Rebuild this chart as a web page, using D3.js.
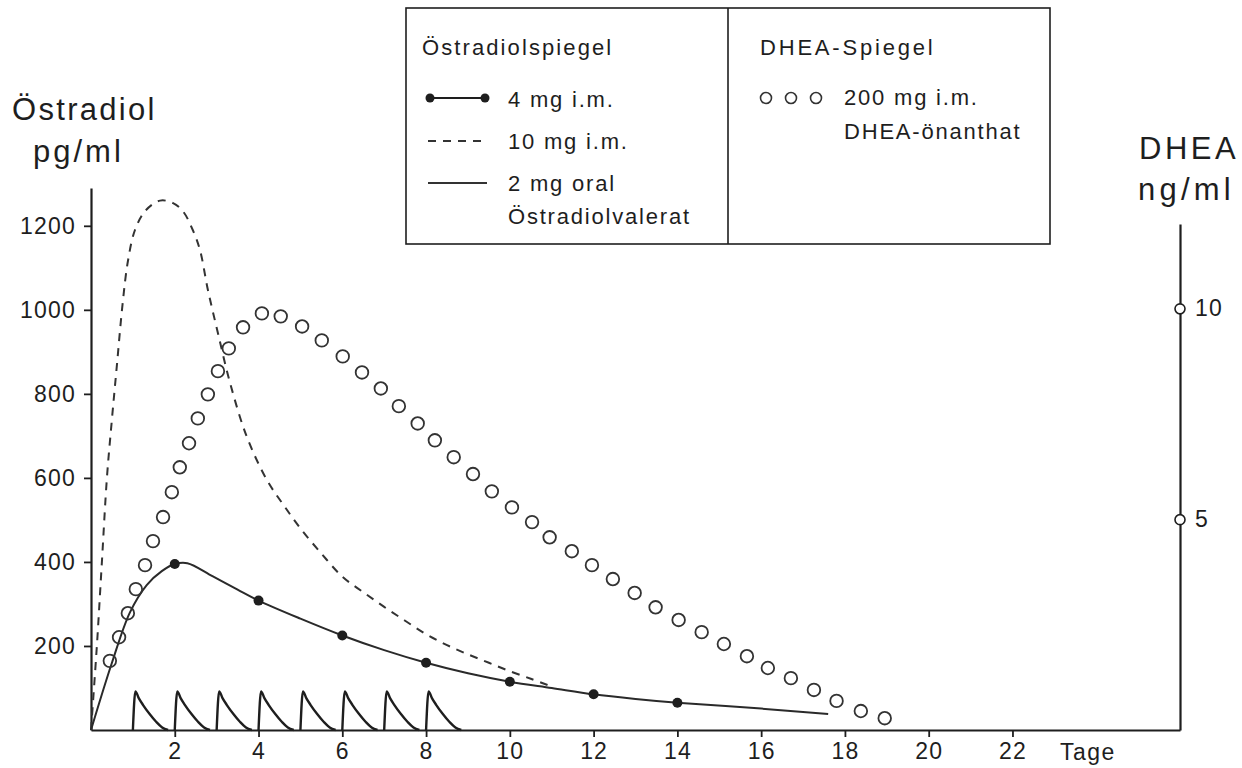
<!DOCTYPE html>
<html>
<head>
<meta charset="utf-8">
<script src="https://cdn.jsdelivr.net/npm/d3@7"></script>
<style>
body { margin: 0; background: #fff; }
text { font-family: 'Liberation Sans', Arial, sans-serif; fill: #1e1e1e; }
</style>
</head>
<body>
<div id="chart"></div>
<script>
const width = 1242;
const height = 768;
const ink = '#1e1e1e';

// axis ticks
const dayTicks = [2, 4, 6, 8, 10, 12, 14, 16, 18, 20, 22];
const estTicks = [200, 400, 600, 800, 1000, 1200];
const dheaTicks = [5, 10];

// Östradiol, 4 mg i.m. : drawn curve and measured points (pg/ml)
const e4Days = [0, 0.5, 0.93, 1.33, 1.69, 2, 2.3, 2.9, 3.5, 4, 5, 6, 7, 8, 9, 10, 11, 12, 13, 14, 16, 17.6];
const e4Vals = [0, 160, 280, 345, 378, 395, 397, 366, 334, 308, 265, 225, 190, 160, 135, 115, 100, 85, 74, 65, 51, 38];
const e4DotDays = [2, 4, 6, 8, 10, 12, 14];
const e4DotVals = [395, 308, 225, 160, 115, 85, 65];

// Östradiol, 10 mg i.m. (pg/ml)
const e10Days = [0, 0.14, 0.26, 0.38, 0.5, 0.62, 0.75, 0.88, 1.05, 1.3, 1.65, 1.96, 2.2, 2.43, 2.6, 2.79, 3.03,
                 3.32, 3.72, 4.2, 4.6, 5.0, 5.5, 6, 6.5, 7, 7.5, 8, 8.5, 9, 9.5, 10, 10.5, 10.9];
const e10Vals = [0, 200, 400, 600, 740, 870, 1010, 1115, 1190, 1236, 1260, 1254, 1234, 1190, 1143, 1048, 945,
                 826, 698, 595, 535, 480, 420, 365, 328, 293, 260, 228, 202, 180, 160, 140, 122, 107];

// Östradiolvalerat, 2 mg oral : one intake per day, profile after each intake (pg/ml)
const oralDoseDays = [1, 2, 3, 4, 5, 6, 7, 8];
const oralProfileDays = [0, 0.06, 0.14, 0.24, 0.4, 0.56, 0.7, 0.84];
const oralProfileVals = [0, 92, 76, 60, 38, 19, 6, 0];

// DHEA, 200 mg i.m. DHEA-önanthat (ng/ml)
const dheaDays = [0.45, 0.67, 0.88, 1.07, 1.29, 1.48, 1.72, 1.93, 2.12, 2.34, 2.55, 2.79, 3.03, 3.29, 3.63, 4.08,
                  4.53, 5.04, 5.51, 6.01, 6.47, 6.92, 7.35, 7.80, 8.21, 8.66, 9.12, 9.57, 10.05, 10.53, 10.95,
                  11.48, 11.96, 12.46, 12.98, 13.48, 14.03, 14.58, 15.11, 15.66, 16.16, 16.71, 17.26, 17.80, 18.38, 18.95];
const dheaVals = [1.64, 2.20, 2.77, 3.34, 3.91, 4.48, 5.05, 5.64, 6.23, 6.80, 7.39, 7.96, 8.51, 9.05, 9.55, 9.88,
                  9.81, 9.57, 9.24, 8.86, 8.48, 8.10, 7.68, 7.27, 6.87, 6.47, 6.07, 5.66, 5.28, 4.93, 4.57,
                  4.24, 3.91, 3.58, 3.25, 2.91, 2.61, 2.32, 2.04, 1.75, 1.47, 1.23, 0.95, 0.69, 0.45, 0.28];

const x = d3.scaleLinear().domain([0, 26]).range([91, 1180]);
const yE = d3.scaleLinear().domain([0, 1290]).range([730, 188]);
const yD = d3.scaleLinear().domain([0, 12]).range([730, 224]);

const svg = d3.select('#chart').append('svg')
    .attr('width', width)
    .attr('height', height);
svg.append('rect')
    .attr('width', width)
    .attr('height', height)
    .attr('fill', '#fff');

function styleAxis(g) {
    g.attr('font-family', null).attr('font-size', 23);
    g.select('.domain').attr('stroke', ink).attr('stroke-width', 2.2);
    g.selectAll('.tick line').attr('stroke', ink).attr('stroke-width', 1.8);
    g.selectAll('.tick text').attr('letter-spacing', 1.2);
}

// axes
svg.append('g')
    .attr('transform', 'translate(0,' + yE(0) + ')')
    .call(d3.axisBottom(x).tickValues(dayTicks).tickFormat(d3.format('d'))
        .tickSize(7).tickSizeOuter(0).tickPadding(6))
    .call(styleAxis);
svg.append('g')
    .attr('transform', 'translate(' + x(0) + ',0)')
    .call(d3.axisLeft(yE).tickValues(estTicks).tickFormat(d3.format('d'))
        .tickSize(7).tickSizeOuter(0).tickPadding(8))
    .call(styleAxis);
let right = svg.append('g')
    .attr('transform', 'translate(' + x(26) + ',0)')
    .call(d3.axisRight(yD).tickValues(dheaTicks).tickFormat(d3.format('d'))
        .tickSize(0).tickSizeOuter(0).tickPadding(15))
    .call(styleAxis);
right.selectAll('.tick').append('circle')
    .attr('r', 5)
    .attr('fill', '#fff')
    .attr('stroke', ink)
    .attr('stroke-width', 1.6);

// curves
const lineE = d3.line()
    .x(d => x(d[0]))
    .y(d => yE(d[1]))
    .curve(d3.curveCatmullRom.alpha(0.5));
const lineOral = d3.line()
    .x(d => x(d[0]))
    .y(d => yE(d[1]))
    .curve(d3.curveMonotoneX);

svg.append('path')
    .datum(d3.zip(e10Days, e10Vals))
    .attr('d', lineE)
    .attr('fill', 'none')
    .attr('stroke', '#333')
    .attr('stroke-width', 2)
    .attr('stroke-dasharray', '8,7');

svg.append('path')
    .datum(d3.zip(e4Days, e4Vals))
    .attr('d', lineE)
    .attr('fill', 'none')
    .attr('stroke', '#2a2a2a')
    .attr('stroke-width', 2);

svg.append('g').selectAll('circle')
    .data(d3.zip(e4DotDays, e4DotVals))
    .enter().append('circle')
    .attr('cx', d => x(d[0]))
    .attr('cy', d => yE(d[1]))
    .attr('r', 5)
    .attr('fill', ink);

svg.append('g').selectAll('path')
    .data(oralDoseDays)
    .enter().append('path')
    .attr('d', day => lineOral(d3.zip(oralProfileDays.map(t => t + day), oralProfileVals)))
    .attr('fill', 'none')
    .attr('stroke', ink)
    .attr('stroke-width', 2.4);

svg.append('g').selectAll('circle')
    .data(d3.zip(dheaDays, dheaVals))
    .enter().append('circle')
    .attr('cx', d => x(d[0]))
    .attr('cy', d => yD(d[1]))
    .attr('r', 6.3)
    .attr('fill', 'none')
    .attr('stroke', '#333')
    .attr('stroke-width', 1.8);

// axis titles
function label(txt, px, py, size, spacing) {
    svg.append('text')
        .attr('x', px)
        .attr('y', py)
        .attr('font-size', size)
        .attr('letter-spacing', spacing)
        .text(txt);
}
label('Östradiol', 12, 120, 31, 2.3);
label('pg/ml', 33, 162, 31, 3);
label('DHEA', 1139, 159, 31, 3.5);
label('ng/ml', 1138, 200, 31, 4.2);
label('Tage', 1060, 760, 23, 1.5);

// legend
let legend = svg.append('g');
legend.append('rect')
    .attr('x', 406).attr('y', 8)
    .attr('width', 644).attr('height', 236)
    .attr('fill', 'none')
    .attr('stroke', ink)
    .attr('stroke-width', 1.6);
legend.append('line')
    .attr('x1', 728).attr('x2', 728)
    .attr('y1', 8).attr('y2', 244)
    .attr('stroke', ink)
    .attr('stroke-width', 1.6);

label('Östradiolspiegel', 422, 55, 22, 2.1);
label('DHEA-Spiegel', 760, 55, 22, 2.8);

legend.append('line')
    .attr('x1', 430).attr('x2', 485).attr('y1', 98).attr('y2', 98)
    .attr('stroke', ink).attr('stroke-width', 2);
legend.selectAll('circle.end')
    .data([430, 485])
    .enter().append('circle')
    .attr('cx', d => d).attr('cy', 98).attr('r', 4.5)
    .attr('fill', ink);
label('4 mg  i.m.', 508, 107, 22, 1.8);

legend.append('line')
    .attr('x1', 428).attr('x2', 487).attr('y1', 141).attr('y2', 141)
    .attr('stroke', '#333').attr('stroke-width', 1.8)
    .attr('stroke-dasharray', '8,7');
label('10 mg  i.m.', 508, 149, 22, 1.8);

legend.append('line')
    .attr('x1', 428).attr('x2', 487).attr('y1', 183).attr('y2', 183)
    .attr('stroke', '#333').attr('stroke-width', 1.8);
label('2 mg oral', 508, 191, 22, 1.8);
label('Östradiolvalerat', 508, 224, 22, 1.8);

legend.selectAll('circle.dhea')
    .data([766, 791, 816])
    .enter().append('circle')
    .attr('cx', d => d).attr('cy', 98).attr('r', 5.5)
    .attr('fill', 'none')
    .attr('stroke', '#333')
    .attr('stroke-width', 1.6);
label('200 mg  i.m.', 844, 105, 22, 1.8);
label('DHEA-önanthat', 844, 139, 22, 1.8);
</script>
</body>
</html>
